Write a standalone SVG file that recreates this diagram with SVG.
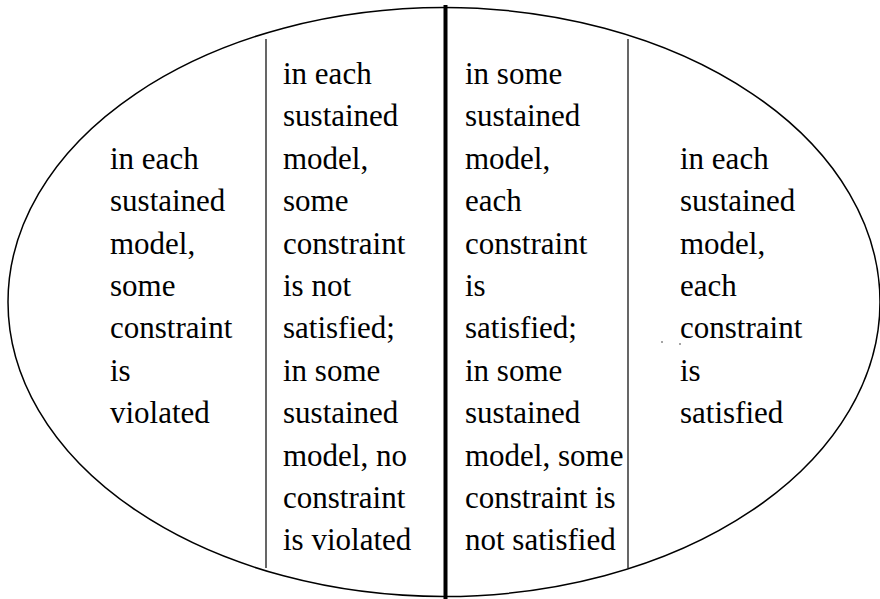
<svg xmlns="http://www.w3.org/2000/svg" width="880" height="599" viewBox="0 0 880 599">
<style>
text{font-family:'Liberation Serif','Times New Roman',serif;font-size:31px;fill:#000}
.thin{stroke:#000;stroke-width:1.2;fill:none}
</style>
<rect width="880" height="599" fill="#fff"/>
<g id="ellipse">
<ellipse cx="444" cy="302" rx="436" ry="294.5" fill="none" stroke="#000" stroke-width="1.5"/>
</g>
<g id="connectors">
<line class="thin" x1="266" y1="39" x2="266" y2="568"/>
<line class="thin" x1="628" y1="39" x2="628" y2="568"/>
<line x1="445.5" y1="5" x2="445.5" y2="599" stroke="#000" stroke-width="4"/>
</g>
<g id="col1">
<text x="110" y="168.8">in each</text>
<text x="110" y="211.2">sustained</text>
<text x="110" y="253.6">model,</text>
<text x="110" y="296">some</text>
<text x="110" y="338.4">constraint</text>
<text x="110" y="380.8">is</text>
<text x="110" y="423.2">violated</text>
</g>
<g id="col2">
<text x="283" y="84">in each</text>
<text x="283" y="126.4">sustained</text>
<text x="283" y="168.8">model,</text>
<text x="283" y="211.2">some</text>
<text x="283" y="253.6">constraint</text>
<text x="283" y="296">is not</text>
<text x="283" y="338.4">satisfied;</text>
<text x="283" y="380.8">in some</text>
<text x="283" y="423.2">sustained</text>
<text x="283" y="465.6">model, no</text>
<text x="283" y="508">constraint</text>
<text x="283" y="550.4">is violated</text>
</g>
<g id="col3">
<text x="465" y="84">in some</text>
<text x="465" y="126.4">sustained</text>
<text x="465" y="168.8">model,</text>
<text x="465" y="211.2">each</text>
<text x="465" y="253.6">constraint</text>
<text x="465" y="296">is</text>
<text x="465" y="338.4">satisfied;</text>
<text x="465" y="380.8">in some</text>
<text x="465" y="423.2">sustained</text>
<text x="465" y="465.6">model, some</text>
<text x="465" y="508">constraint is</text>
<text x="465" y="550.4">not satisfied</text>
</g>
<g id="col4">
<text x="680" y="168.8">in each</text>
<text x="680" y="211.2">sustained</text>
<text x="680" y="253.6">model,</text>
<text x="680" y="296">each</text>
<text x="680" y="338.4">constraint</text>
<text x="680" y="380.8">is</text>
<text x="680" y="423.2">satisfied</text>
</g>
<g id="marks">
<circle cx="662" cy="342" r="0.8" fill="#333"/>
<circle cx="680" cy="344" r="0.8" fill="#333"/>
</g>
</svg>
